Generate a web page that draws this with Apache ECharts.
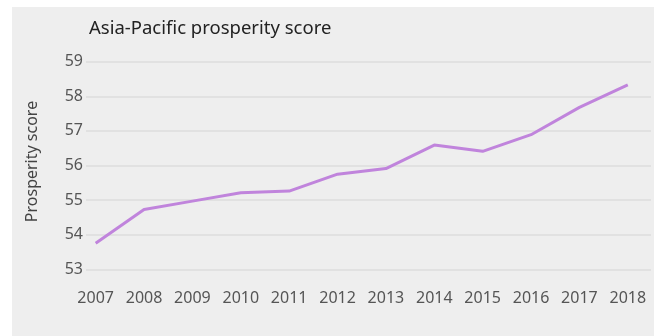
<!DOCTYPE html>
<html>
<head>
<meta charset="utf-8">
<script src="https://cdn.jsdelivr.net/npm/echarts@6/dist/echarts.min.js"></script>
<style>
  html, body { margin: 0; padding: 0; background: #fff; }
  #chart { width: 655px; height: 336px; }
</style>
</head>
<body>
<div id="chart"></div>
<script>
// values
const years = [2007, 2008, 2009, 2010, 2011, 2012, 2013, 2014, 2015, 2016, 2017, 2018]
const scores = [53.75, 54.73, 54.97, 55.21, 55.26, 55.75, 55.91, 56.59, 56.41, 56.89, 57.68, 58.33]
const yTicks = [53, 54, 55, 56, 57, 58, 59]

const chart = echarts.init(document.getElementById('chart'))

chart.setOption({
  backgroundColor: '#ffffff',
  animation: false,
  textStyle: { fontFamily: 'Noto Sans' },
  graphic: [
    {
      type: 'rect',
      z: -10,
      silent: true,
      shape: { x: 12, y: 7, width: 642, height: 329 },
      style: { fill: '#eeeeee' }
    }
  ],
  title: {
    text: 'Asia-Pacific prosperity score',
    left: 84,
    top: 14,
    textStyle: { fontSize: 18.5, fontWeight: 'normal', color: '#222', fontFamily: 'Noto Sans' }
  },
  grid: { left: 86, right: 4, top: 61.7, bottom: 66.7, containLabel: false },
  xAxis: {
    type: 'value',
    min: 2006.8,
    max: 2018.48,
    axisLine: { show: false },
    axisTick: { show: false },
    splitLine: { show: false },
    axisLabel: {
      customValues: years,
      margin: 21,
      fontSize: 16,
      color: '#555',
      formatter: v => String(v)
    }
  },
  yAxis: {
    type: 'value',
    min: yTicks[0],
    max: yTicks[yTicks.length - 1],
    interval: 1,
    name: 'Prosperity score',
    nameLocation: 'middle',
    nameGap: 46,
    nameTextStyle: { fontSize: 16, color: '#444', padding: [0, 0, 0, 8] },
    axisLine: { show: false },
    axisTick: { show: false },
    axisLabel: { margin: 3, fontSize: 16, color: '#555' },
    splitLine: { lineStyle: { color: '#dcdcdc', width: 1.5 } }
  },
  series: [
    {
      type: 'line',
      data: years.map((y, i) => [y, scores[i]]),
      showSymbol: false,
      lineStyle: { color: '#c084dc', width: 3 }
    }
  ]
})
</script>
</body>
</html>
